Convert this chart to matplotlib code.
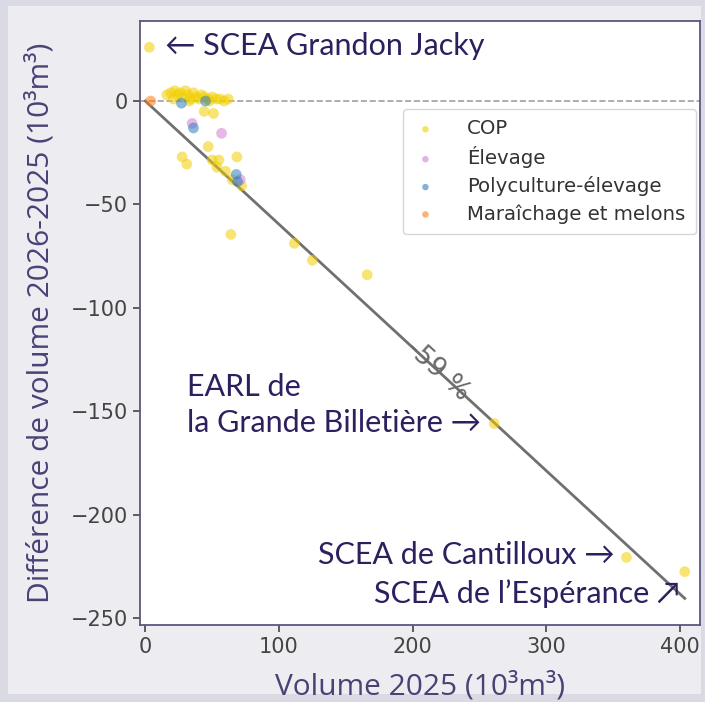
import matplotlib
matplotlib.use("Agg")
import matplotlib.pyplot as plt
from matplotlib.patches import Rectangle

# ---- data (10^3 m^3) ----
cop_x = [3, 16, 19, 22, 24, 26, 28, 30, 32, 34, 36, 38, 40, 42, 44, 47, 50, 53, 56, 59, 62, 21, 33, 48,
         44, 51, 47, 27.5, 31, 50, 55, 68.5, 53.6, 60, 65, 72, 64, 111.5, 125, 166, 261, 360, 403.6]
cop_y = [26, 3, 4, 5, 3, 4, 2, 5, 3, 1, 4, 2, 1, 3, 2, 1, 2, 1, 1, 0, 1, 1, 0, 0,
         -5, -6, -22, -27, -30.5, -28.5, -28.5, -27, -32, -34, -38, -41, -64.5, -68.8, -77, -84, -156, -220.7, -227.6]
elev_x = [35, 57, 71]
elev_y = [-10.8, -15.6, -38]
poly_x = [27, 45, 36, 68, 69]
poly_y = [-1, 0, -13, -35.5, -39]
mara_x = [4]
mara_y = [0]

categories = ["COP", "Élevage", "Polyculture-élevage", "Maraîchage et melons"]
colors = ["#f2cf00", "#d27fd2", "#2f7fc0", "#ff7f0e"]
slope = -0.596
slope_label = "-59 %"

xticks = [0, 100, 200, 300, 400]
yticks = [0, -50, -100, -150, -200, -250]

fig = plt.figure(figsize=(7.05, 7.02), dpi=100)
fig.patch.set_facecolor("#d9dae3")
bg = Rectangle((0.012, 0.012), 0.982, 0.98, transform=fig.transFigure,
               facecolor="#ececf1", edgecolor="none", zorder=-10)
fig.add_artist(bg)
ax = fig.add_axes([0.1986, 0.1097, 0.7943, 0.8603])
ax.set_zorder(5)
ax.set_facecolor("white")

series = [(cop_x, cop_y), (elev_x, elev_y), (poly_x, poly_y), (mara_x, mara_y)]
for (xs, ys), lab, c in zip(series, categories, colors):
    ax.scatter(xs, ys, s=60, color=c, alpha=0.55, edgecolors="none", label=lab, zorder=3)

ax.axhline(0, color="#a0a0a0", ls="--", lw=1.2, zorder=1)
xmax = max(cop_x)
ax.plot([0, xmax], [0, slope * xmax], color="#707070", lw=2, zorder=2)
ax.text(219, slope * 219, slope_label, rotation=-42.5, rotation_mode="anchor",
        ha="center", va="center", fontsize=19, color="#6a6a6a", family="DejaVu Sans")

ax.set_xlim(-4, 415)
ax.set_ylim(-253.4, 38.7)
ax.set_xticks(xticks)
ax.set_yticks(yticks)
ax.tick_params(labelsize=15, colors="#444444", length=5, width=1.2)
for sp in ax.spines.values():
    sp.set_color("#5c5680")
    sp.set_linewidth(1.3)

lab_font = dict(family=["Open Sans", "DejaVu Sans"], fontsize=21.5, color="#4a4175")
ax.set_xlabel("Volume 2025 (10³m³)", labelpad=11, **lab_font)
ax.set_ylabel("Différence de volume 2026-2025 (10³m³)", labelpad=11, **lab_font)

leg = ax.legend(loc="upper right", bbox_to_anchor=(0.993, 0.855), borderaxespad=0,
                fontsize=14.2, markerscale=0.6, frameon=True, fancybox=True,
                labelspacing=0.4, handletextpad=1.5, borderpad=0.55, handlelength=1.2)
leg.get_frame().set_edgecolor("#cccccc")
for t in leg.get_texts():
    t.set_color("#333333")
for h in leg.legend_handles:
    h.set_alpha(0.6)

ann = dict(family=["Lato", "DejaVu Sans"], fontsize=22, color="#2e1f5e")
ax.text(15, 26.6, "← SCEA Grandon Jacky", ha="left", va="center", **ann)
ax.text(31, -147, "EARL de\nla Grande Billetière →", ha="left", va="center", linespacing=1.35, **ann)
ax.text(351, -219.5, "SCEA de Cantilloux →", ha="right", va="center", **ann)
ax.text(400, -238.4, "SCEA de l’Espérance ↗", ha="right", va="center", **ann)

fig.savefig("out.png", dpi=100, facecolor=fig.get_facecolor())
